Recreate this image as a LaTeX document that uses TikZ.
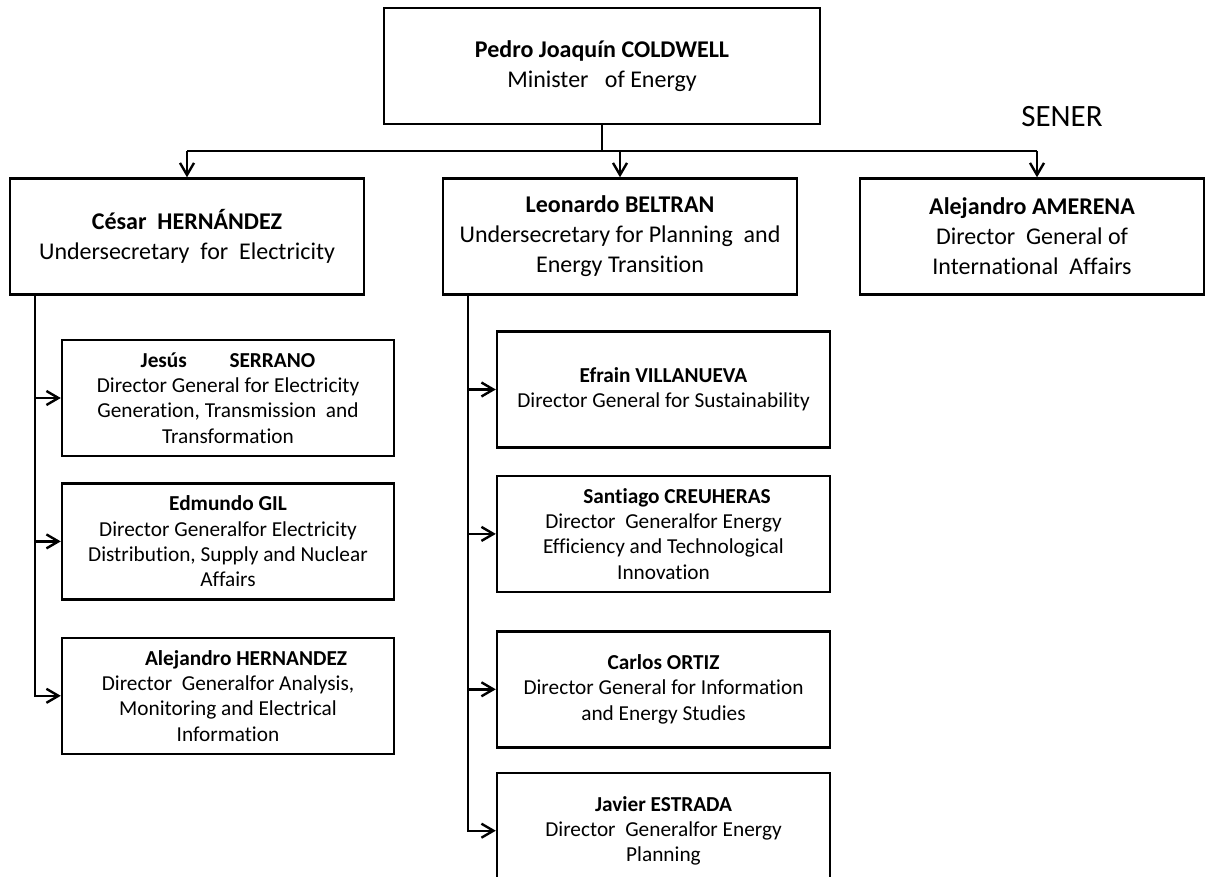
\documentclass[tikz,border=0pt]{standalone}
\usepackage{fontspec}
\setmainfont{Carlito}[Ligatures=NoCommon]
\usetikzlibrary{positioning, arrows.meta}

\begin{document}
\begin{tikzpicture}[x=1pt, y=-1pt,
        % Styles
        chief/.style={draw, line width=2.4pt, minimum width=436pt, minimum height=116pt, font=\fontsize{24}{30}\selectfont, align=center, inner sep=0pt},
        under/.style={draw, line width=2.4pt, minimum width=354pt, minimum height=116pt, font=\fontsize{24}{30}\selectfont, align=center, inner sep=0pt},
        dg/.style={draw, line width=2.4pt, minimum width=332pt, minimum height=116pt, font=\fontsize{21.3}{25.3}\selectfont, align=center, inner sep=0pt},
        link/.style={line width=2.4pt},
        arr/.style={line width=2.4pt, -{Straight Barb[length=12pt, width=14pt]}},
    ]
        \useasboundingbox (0,0) rectangle (1206,877);

        % === Minister ===
        \node[chief] (minister) at (602,66) {\textbf{Pedro Joaquín COLDWELL}\\Minister\ \ \ of Energy};
        \node[font=\fontsize{31}{36}\selectfont] (sener) at (1062,117) {SENER};

        % === Undersecretaries ===
        \node[under] (cesar) at (187,236.5) {\textbf{César\ \ HERNÁNDEZ}\\Undersecretary\ \ for\ \ Electricity};
        \node[under] (leonardo) at (620,236.5) {\textbf{Leonardo BELTRAN}\\Undersecretary for Planning\ \ and\\Energy Transition};
        \node[under, minimum width=344pt] (amerena) at (1032,236.5) {\textbf{Alejandro AMERENA}\\Director\ \ General of\\International\ \ Affairs};

        % === Left column (electricity) ===
        \node[dg] (jesus) at (228,398) {\textbf{Jesús\hspace{2em}SERRANO}\\Director General for Electricity\\Generation, Transmission\ \ and\\Transformation};
        \node[dg, below=25pt of jesus] (edmundo) {\textbf{Edmundo GIL}\\Director Generalfor Electricity\\Distribution, Supply and Nuclear\\Affairs};
        \node[dg, below=36pt of edmundo] (alejandroH) {\hspace*{36pt}\textbf{Alejandro HERNANDEZ}\\Director\ \ Generalfor Analysis,\\Monitoring and Electrical\\Information};

        % === Middle column (planning) ===
        \node[dg, minimum width=333pt] (efrain) at (663.5,389.5) {\textbf{Efrain VILLANUEVA}\\Director General for Sustainability};
        \node[dg, minimum width=333pt, below=26pt of efrain] (santiago) {\hspace*{27pt}\textbf{Santiago CREUHERAS}\\Director\ \ Generalfor Energy\\Efficiency and Technological\\Innovation};
        \node[dg, minimum width=333pt, below=37pt of santiago] (carlos) {\textbf{Carlos ORTIZ}\\Director General for Information\\and Energy Studies};
        \node[dg, minimum width=333pt, below=23pt of carlos] (javier) {\textbf{Javier ESTRADA}\\Director\ \ Generalfor Energy\\Planning};

        % === Connectors from the minister ===
        \coordinate (busL) at (187,151);
        \coordinate (busR) at (1037,151);
        \draw[link] (minister.south) -- (minister.south |- busL);
        \draw[link] (busL) -- (busR);
        \draw[arr] (busL) -- (cesar.north);
        \draw[arr] (leonardo.north |- busL) -- (leonardo.north);
        \draw[arr] (busR) -- (busR |- amerena.north);

        % === Left trunk ===
        \coordinate (trunkL) at ([xshift=26pt]cesar.south west);
        \draw[arr] (trunkL) |- (alejandroH);
        \draw[arr] (trunkL |- jesus) -- (jesus);
        \draw[arr] (trunkL |- edmundo) -- (edmundo);

        % === Middle trunk ===
        \coordinate (trunkM) at ([xshift=26pt]leonardo.south west);
        \draw[arr] (trunkM) |- (javier);
        \draw[arr] (trunkM |- efrain) -- (efrain);
        \draw[arr] (trunkM |- santiago) -- (santiago);
        \draw[arr] (trunkM |- carlos) -- (carlos);

    \end{tikzpicture}
\end{document}
